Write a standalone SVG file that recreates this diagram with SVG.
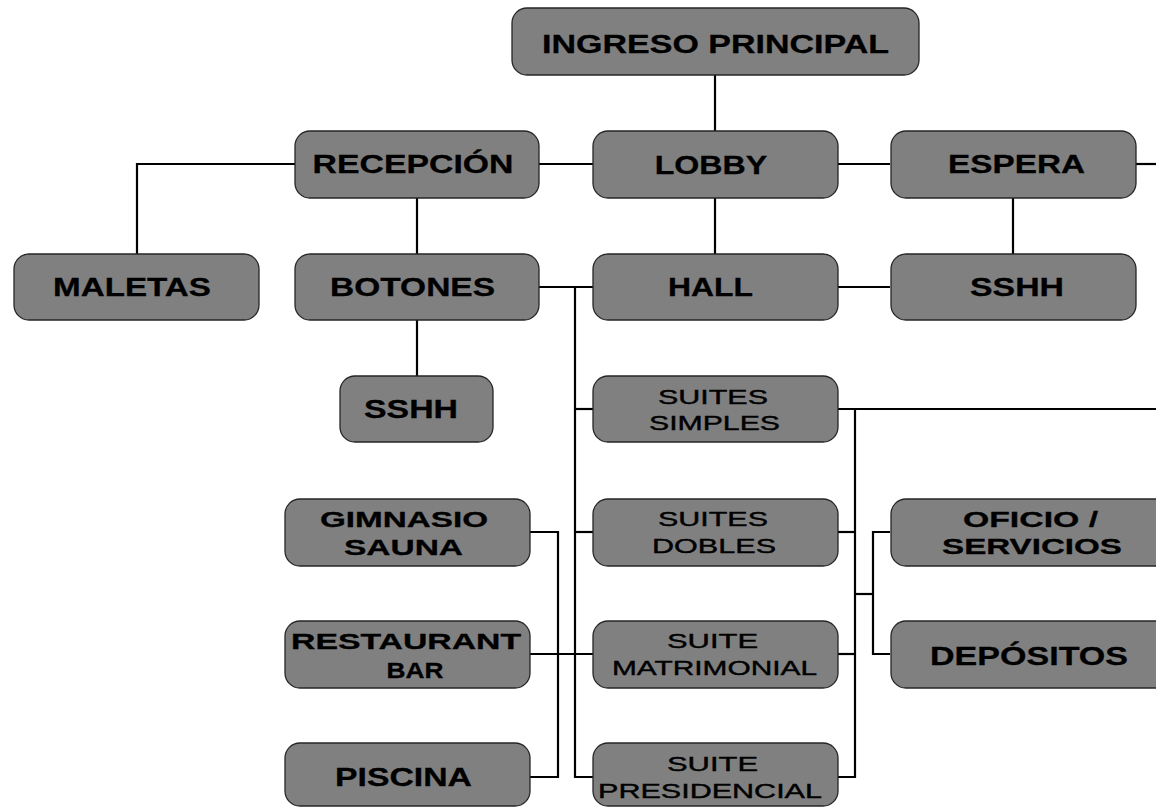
<svg xmlns="http://www.w3.org/2000/svg" width="1156" height="809" viewBox="0 0 1156 809">
  <style>
    .box { fill: #808080; stroke: #262626; stroke-width: 1.3; }
    .wire { fill: none; stroke: #000; stroke-width: 2.2; }
    text { font-family: "Liberation Sans", Arial, sans-serif; fill: #000; text-anchor: middle; }
    .b { font-weight: bold; font-size: 26px; stroke: #000; stroke-width: 0.3; }
    .b2 { font-weight: bold; font-size: 22px; stroke: #000; stroke-width: 0.3; }
    .r { font-weight: normal; font-size: 20px; stroke: #000; stroke-width: 0.4; }
  </style>
  <rect width="1156" height="809" fill="#fff"/>

  <!-- connectors -->
  <g id="connectors" class="wire">
    <path d="M715 75V131"/>
    <path d="M539 164H593"/>
    <path d="M838 164H890"/>
    <path d="M1136 164H1156"/>
    <path d="M295 164H137V254"/>
    <path d="M417 198V254"/>
    <path d="M715 198V254"/>
    <path d="M1013 198V254"/>
    <path d="M539 287H593"/>
    <path d="M838 287H890"/>
    <path d="M417 320V376"/>
    <path d="M575 287V777H593"/>
    <path d="M575 409H593"/>
    <path d="M575 532H593"/>
    <path d="M530 654H593"/>
    <path d="M530 532H558V777H530"/>
    <path d="M838 409H1156"/>
    <path d="M855 409V777H838"/>
    <path d="M838 532H855"/>
    <path d="M838 654H855"/>
    <path d="M855 594H873"/>
    <path d="M890 532H873V654H890"/>
  </g>

  <!-- labels are set in a wide face: each text is stretched horizontally -->
  <g id="ingreso-principal">
    <rect class="box" x="512" y="8" width="407" height="67" rx="15"/>
    <text class="b" transform="matrix(1.28 0 0 1 715.5 53)" textLength="271" lengthAdjust="spacingAndGlyphs">INGRESO PRINCIPAL</text>
  </g>
  <g id="recepcion">
    <rect class="box" x="295" y="131" width="244" height="67" rx="15"/>
    <text class="b" transform="matrix(1.28 0 0 1 413 173)" textLength="157" lengthAdjust="spacingAndGlyphs">RECEPCIÓN</text>
  </g>
  <g id="lobby">
    <rect class="box" x="593" y="131" width="245" height="67" rx="15"/>
    <text class="b" transform="matrix(1.28 0 0 1 711 174)" textLength="88" lengthAdjust="spacingAndGlyphs">LOBBY</text>
  </g>
  <g id="espera">
    <rect class="box" x="891" y="131" width="245" height="67" rx="15"/>
    <text class="b" transform="matrix(1.28 0 0 1 1016.5 173)" textLength="107" lengthAdjust="spacingAndGlyphs">ESPERA</text>
  </g>
  <g id="maletas">
    <rect class="box" x="14" y="254" width="245" height="66" rx="15"/>
    <text class="b" transform="matrix(1.28 0 0 1 132 296)" textLength="123.4" lengthAdjust="spacingAndGlyphs">MALETAS</text>
  </g>
  <g id="botones">
    <rect class="box" x="295" y="254" width="244" height="66" rx="15"/>
    <text class="b" transform="matrix(1.28 0 0 1 412.5 296)" textLength="129" lengthAdjust="spacingAndGlyphs">BOTONES</text>
  </g>
  <g id="hall">
    <rect class="box" x="593" y="254" width="245" height="66" rx="15"/>
    <text class="b" transform="matrix(1.28 0 0 1 710.5 296)" textLength="66.4" lengthAdjust="spacingAndGlyphs">HALL</text>
  </g>
  <g id="sshh-espera">
    <rect class="box" x="891" y="254" width="245" height="66" rx="15"/>
    <text class="b" transform="matrix(1.28 0 0 1 1017 296)" textLength="73.4" lengthAdjust="spacingAndGlyphs">SSHH</text>
  </g>
  <g id="sshh-botones">
    <rect class="box" x="340" y="376" width="153" height="66" rx="15"/>
    <text class="b" transform="matrix(1.28 0 0 1 411 418)" textLength="73.4" lengthAdjust="spacingAndGlyphs">SSHH</text>
  </g>
  <g id="suites-simples">
    <rect class="box" x="593" y="376" width="245" height="66" rx="15"/>
    <text class="r" transform="matrix(1.5 0 0 1 713 404)" textLength="73.3" lengthAdjust="spacingAndGlyphs">SUITES</text>
    <text class="r" transform="matrix(1.5 0 0 1 714.5 430)" textLength="87.3" lengthAdjust="spacingAndGlyphs">SIMPLES</text>
  </g>
  <g id="gimnasio-sauna">
    <rect class="box" x="285" y="499" width="245" height="67" rx="15"/>
    <text class="b2" transform="matrix(1.28 0 0 1 404 527)" textLength="131.3" lengthAdjust="spacingAndGlyphs">GIMNASIO</text>
    <text class="b2" transform="matrix(1.28 0 0 1 403.5 555)" textLength="93" lengthAdjust="spacingAndGlyphs">SAUNA</text>
  </g>
  <g id="suites-dobles">
    <rect class="box" x="593" y="499" width="245" height="67" rx="15"/>
    <text class="r" transform="matrix(1.5 0 0 1 713 526)" textLength="73.3" lengthAdjust="spacingAndGlyphs">SUITES</text>
    <text class="r" transform="matrix(1.5 0 0 1 714 553)" textLength="82.7" lengthAdjust="spacingAndGlyphs">DOBLES</text>
  </g>
  <g id="oficio-servicios">
    <rect class="box" x="891" y="499" width="285" height="67" rx="15"/>
    <text class="b2" transform="matrix(1.28 0 0 1 1030.5 527)" textLength="105.5" lengthAdjust="spacingAndGlyphs">OFICIO /</text>
    <text class="b2" transform="matrix(1.28 0 0 1 1032 554)" textLength="140.6" lengthAdjust="spacingAndGlyphs">SERVICIOS</text>
  </g>
  <g id="restaurant-bar">
    <rect class="box" x="285" y="621" width="245" height="67" rx="15"/>
    <text class="b2" transform="matrix(1.28 0 0 1 406 649)" textLength="179.7" lengthAdjust="spacingAndGlyphs">RESTAURANT</text>
    <text class="b2" transform="matrix(1.28 0 0 1 415 678)" textLength="44.5" lengthAdjust="spacingAndGlyphs">BAR</text>
  </g>
  <g id="suite-matrimonial">
    <rect class="box" x="593" y="621" width="245" height="67" rx="15"/>
    <text class="r" transform="matrix(1.5 0 0 1 712.5 648)" textLength="60.7" lengthAdjust="spacingAndGlyphs">SUITE</text>
    <text class="r" transform="matrix(1.5 0 0 1 714.5 675)" textLength="136.7" lengthAdjust="spacingAndGlyphs">MATRIMONIAL</text>
  </g>
  <g id="depositos">
    <rect class="box" x="891" y="621" width="285" height="67" rx="15"/>
    <text class="b" transform="matrix(1.28 0 0 1 1029 665)" textLength="154.7" lengthAdjust="spacingAndGlyphs">DEPÓSITOS</text>
  </g>
  <g id="piscina">
    <rect class="box" x="285" y="743" width="245" height="63" rx="15"/>
    <text class="b" transform="matrix(1.28 0 0 1 403.5 786)" textLength="107" lengthAdjust="spacingAndGlyphs">PISCINA</text>
  </g>
  <g id="suite-presidencial">
    <rect class="box" x="593" y="743" width="245" height="63" rx="15"/>
    <text class="r" transform="matrix(1.5 0 0 1 712.5 771)" textLength="60.7" lengthAdjust="spacingAndGlyphs">SUITE</text>
    <text class="r" transform="matrix(1.5 0 0 1 710 798)" textLength="149.3" lengthAdjust="spacingAndGlyphs">PRESIDENCIAL</text>
  </g>
</svg>
